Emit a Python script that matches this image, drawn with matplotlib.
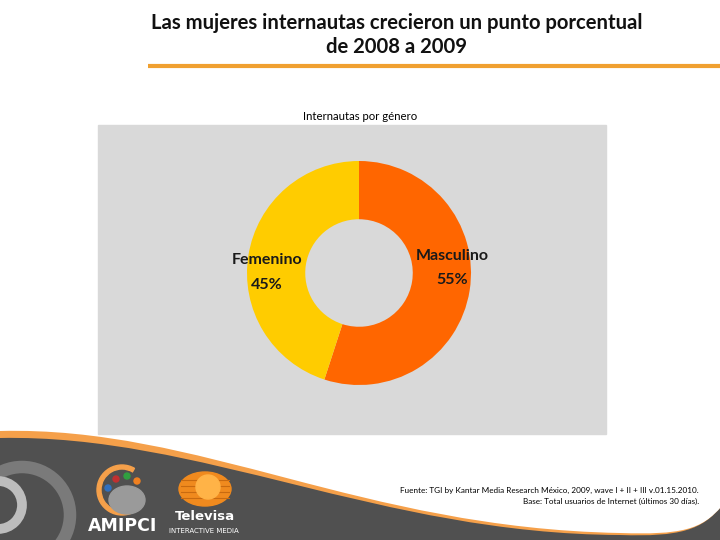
import numpy as np
import matplotlib.pyplot as plt
from matplotlib.patches import Rectangle, Circle, Ellipse, PathPatch, Wedge
from matplotlib.path import Path

categories = ["Masculino", "Femenino"]
shares = [55, 45]
colors = ["#FF6600", "#FFCC00"]

title = "Las mujeres internautas crecieron un punto porcentual\nde 2008 a 2009"
subtitle = "Internautas por género"
source_lines = ["Fuente: TGI by Kantar Media Research México, 2009, wave I + II + III v.01.15.2010.",
                "Base: Total usuarios de Internet (últimos 30 días)."]

plt.rcParams['font.family'] = ['Lato', 'DejaVu Sans']

fig = plt.figure(figsize=(7.2, 5.4), dpi=100)
fig.patch.set_facecolor("white")


def px(x, y):
    # pixel position -> figure fraction
    return x / 720, 1 - y / 540


# background layer in pixel coordinates
bg = fig.add_axes([0, 0, 1, 1])
bg.set_xlim(0, 720)
bg.set_ylim(540, 0)
bg.axis("off")

lines = title.split("\n")
bg.text(397, 23, lines[0], ha="center", va="center", fontsize=14.6, weight="bold", color="#111111")
bg.text(397, 47, lines[1], ha="center", va="center", fontsize=14.6, weight="bold", color="#111111")
bg.plot([148, 720], [66, 66], color="#F0A030", lw=3, solid_capstyle="butt")

bg.text(360, 116, subtitle, ha="center", va="center", fontsize=8.2)
bg.add_patch(Rectangle((98, 125), 508, 309, color="#D9D9D9", zorder=0))


def swoosh(y0, c1, c2, yend, color, z):
    verts = [(0, y0), c1, c2, (620, yend), (680, yend + 2), (702, 530), (722, 506),
             (722, 541), (0, 541), (0, y0)]
    codes = [Path.MOVETO, Path.CURVE4, Path.CURVE4, Path.CURVE4,
             Path.CURVE4, Path.CURVE4, Path.CURVE4,
             Path.LINETO, Path.LINETO, Path.CLOSEPOLY]
    bg.add_patch(PathPatch(Path(verts, codes), color=color, lw=0, zorder=z))


swoosh(431, (200, 426), (360, 528), 533, "#F5A04A", 1)
swoosh(438, (200, 434), (380, 534), 535, "#505050", 2)

# decorative rings on the left
bg.add_patch(Circle((22, 515), 48, fill=False, ec="#7A7A7A", lw=9, zorder=3))
bg.add_patch(Circle((-2, 505), 24, fill=False, ec="#BDBDBD", lw=7, zorder=3))

# AMIPCI logo
bg.add_patch(Wedge((122, 490), 25, 60, 300, width=4, color="#F5A04A", zorder=3))
bg.add_patch(Ellipse((127, 500), 36, 28, color="#9A9A9A", zorder=3))
dots = [(108, 488, "#3070C0"), (116, 479, "#C03030"), (127, 476, "#30A040"), (137, 481, "#F08020")]
for dx, dy, dc in dots:
    bg.add_patch(Circle((dx, dy), 3, color=dc, zorder=4))
bg.text(123, 526, "AMIPCI", ha="center", va="center", fontsize=12.5, weight="bold",
        color="white", family=["DejaVu Sans"], zorder=4)

# Televisa logo
bg.add_patch(Ellipse((205, 489), 52, 34, color="#F08A1E", zorder=3))
for yy in (480, 486, 492, 498):
    bg.plot([181, 229], [yy, yy], color="#C86A10", lw=0.8, zorder=3.5)
bg.add_patch(Circle((208, 487), 12, color="#FFB347", zorder=4))
bg.text(205, 517, "Televisa", ha="center", va="center", fontsize=9.5, weight="bold",
        color="white", family=["DejaVu Sans"], zorder=4)
bg.text(204, 531, "INTERACTIVE MEDIA", ha="center", va="center", fontsize=5,
        color="white", family=["DejaVu Sans"], zorder=4)

bg.text(699, 490, source_lines[0], ha="right", va="center", fontsize=5.9, zorder=4)
bg.text(699, 501, source_lines[1], ha="right", va="center", fontsize=5.9, zorder=4)

# donut chart
cx, cy, r = 359, 273, 112
ax = fig.add_axes([(cx - r) / 720, (540 - cy - r) / 540, 2 * r / 720, 2 * r / 540])
ax.pie(shares, colors=colors, startangle=90, counterclock=False, radius=1,
       wedgeprops=dict(width=0.52, linewidth=0))
ax.set_xlim(-1, 1)
ax.set_ylim(-1, 1)
ax.axis("off")

label_pos = [(452, 256, 280), (267, 260, 285)]
for name, val, (lx, ly1, ly2) in zip(categories, shares, label_pos):
    fig.text(*px(lx, ly1), name, ha="center", va="center", fontsize=11.5, weight="bold", color="#1A1A1A")
    fig.text(*px(lx, ly2), f"{val}%", ha="center", va="center", fontsize=11.5, weight="bold", color="#1A1A1A")

fig.savefig("out.png", dpi=100)
